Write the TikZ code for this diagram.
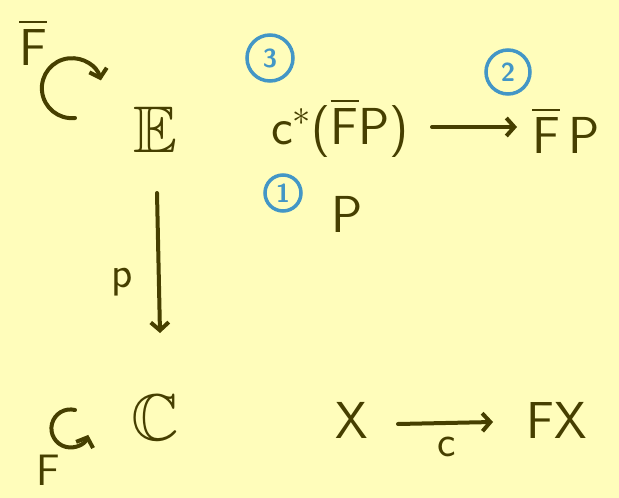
\RequirePackage{fix-cm}
\documentclass[tikz,border=0pt]{standalone}
\usepackage{amssymb}
\usetikzlibrary{arrows.meta}
\definecolor{bg}{HTML}{FFFDBB}
\definecolor{ink}{HTML}{463F00}
\definecolor{blu}{HTML}{4396C6}
\begin{document}
\begin{tikzpicture}[x=1pt,y=-1pt,
  lbl/.style={text=ink,font=\fontsize{52}{56}\selectfont\sffamily,inner sep=0pt},
  big/.style={text=ink,font=\fontsize{66}{70}\selectfont,inner sep=0pt},
  sml/.style={text=ink,font=\fontsize{44}{48}\selectfont\sffamily,inner sep=0pt},
  num/.style={circle,draw=blu,line width=3.5pt,text=blu,font=\fontsize{26}{28}\selectfont\sffamily\bfseries,minimum size=46pt,inner sep=0pt},
  arr/.style={draw=ink,line width=4pt,line cap=round,-{Straight Barb[length=8pt,width=18pt,line width=4pt]}}]
\fill[bg] (0,0) rectangle (619,498);
\useasboundingbox (0,0) rectangle (619,498);
% top-left
\node[lbl] (Fb) at (33,42) {$\overline{\mathsf F}$};
\node[big] (E) at (155,130) {$\mathbb{E}$};
\draw[arr] (75,118) arc[start angle=84,end angle=345,radius=30];
% top-right
\node[num] (n3) at (270,58) {3};
\node[num,minimum size=44pt] (n2) at (508,72) {2};
\node[lbl] (cF) at (340,128) {c$^{*}$($\overline{\mathsf F}$P)};
\node[lbl] (FP) at (566,130) {$\overline{\mathsf F}\,\mathsf P$};
\coordinate (a1s) at (432,127);
\coordinate (a1e) at (517,127);
\draw[arr] (a1s) -- (a1e);
% middle
\node[num,minimum size=36pt] (n1) at (283,193) {1};
\node[lbl] (P) at (347,214) {P};
\node[big] (C) at (155,418) {$\mathbb{C}$};
\coordinate (vs) at (157,193);
\coordinate (ve) at (160,333);
\draw[arr] (vs) -- (ve);
\node[sml] (p) at (122,282) {p};
% bottom-left
\node[sml] (F2) at (48,470) {F};
\draw[arr] (75,410) arc[start angle=284,end angle=20,radius=19];
% bottom-right
\node[lbl] (X) at (352,420) {X};
\node[lbl] (FX) at (557,420) {FX};
\coordinate (a2s) at (398,424);
\coordinate (a2e) at (493,422);
\draw[arr] (a2s) -- (a2e);
\node[sml] (c) at (447,447) {c};
\end{tikzpicture}
\end{document}
